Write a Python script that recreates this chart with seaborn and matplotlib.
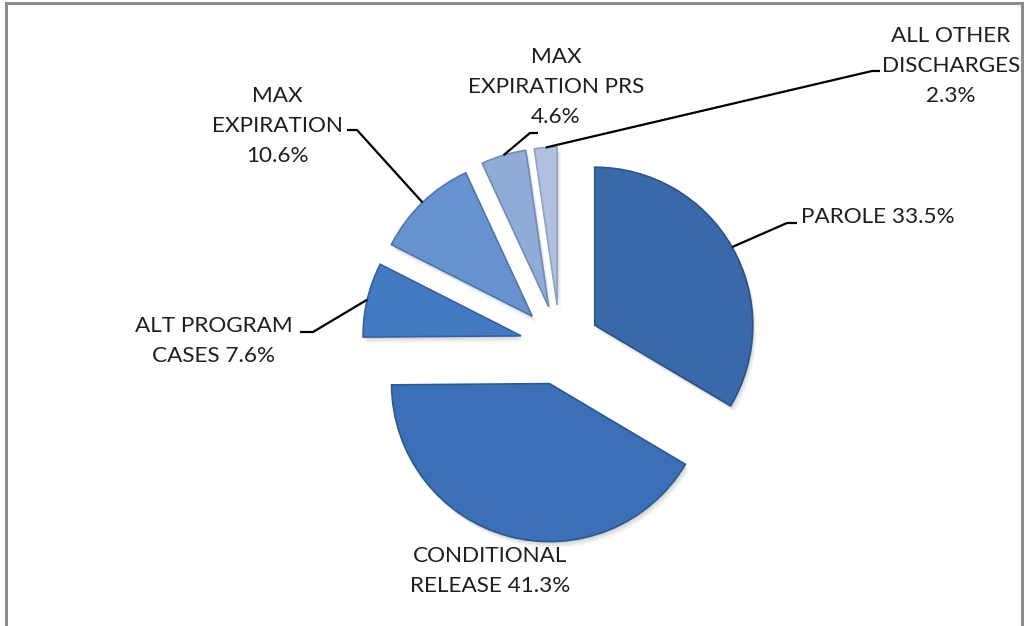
import numpy as np
import matplotlib
matplotlib.use("Agg")
import matplotlib.pyplot as plt
import matplotlib.patches as mpatches
import seaborn as sns

# discharge categories and their share (%)
categories = ["PAROLE", "CONDITIONAL\nRELEASE", "ALT PROGRAM\nCASES",
              "MAX\nEXPIRATION", "MAX\nEXPIRATION PRS", "ALL OTHER\nDISCHARGES"]
shares = [33.5, 41.3, 7.6, 10.6, 4.6, 2.3]

# styling / layout
colors = ["#3A69A9", "#3B70B6", "#4479C3", "#6792CF", "#90ABD6", "#AFC1DF"]
edge_colors = ["#2C5286", "#2D5890", "#35619E", "#4E76AE", "#6F8CB8", "#8EA2C2"]
W, H = 1026, 626
center_px = (560, 345)
radius = 158
explode_px = 40
seps = [" ", " ", " ", "\n", "\n", "\n"]
# label anchor (px), alignment, and leader elbow / end (px)
label_pos = [(801, 217, "left"), (490, 571, "center"), (214, 341, "center"),
             (277, 126, "center"), (556, 87, "center"), (951, 66, "center")]
leaders = [((787, 223), (797, 223)), None, ((313, 332), (300, 332)),
           ((357, 130), (347, 130)), ((530, 133), (538, 133)),
           ((872, 71), (880, 71))]

sns.set_style("white")
plt.rcParams["font.family"] = ["Lato", "DejaVu Sans"]

fig = plt.figure(figsize=(W / 100, H / 100), dpi=100)
ax = fig.add_axes([0, 0, 1, 1])
cx, cy = center_px[0], H - center_px[1]

# soft shadow: a few translucent grey copies shifted down/right
for k, a in [(6, 0.06), (4, 0.08), (2, 0.10)]:
    ax.pie(shares, radius=radius, center=(cx + k * 0.6, cy - k),
           explode=[explode_px] * len(shares), startangle=90, counterclock=False,
           colors=["#404040"] * len(shares),
           wedgeprops=dict(alpha=a, linewidth=0))

wedges, _ = ax.pie(shares, radius=radius, center=(cx, cy),
                   explode=[explode_px] * len(shares), startangle=90,
                   counterclock=False, colors=colors,
                   wedgeprops=dict(linewidth=1.2))
for w, ec in zip(wedges, edge_colors):
    w.set_edgecolor(ec)

for i, w in enumerate(wedges):
    mid = np.deg2rad((w.theta1 + w.theta2) / 2)
    arc_pt = (w.center[0] + w.r * np.cos(mid), w.center[1] + w.r * np.sin(mid))
    lx, ly, ha = label_pos[i]
    ax.text(lx, H - ly, f"{categories[i]}{seps[i]}{shares[i]}%", ha=ha, va="center",
            multialignment="center", fontsize=16.2, color="#1E1E1E", linespacing=1.65)
    if leaders[i] is not None:
        (ex, ey), (tx, ty) = leaders[i]
        ax.plot([arc_pt[0], ex, tx], [arc_pt[1], H - ey, H - ty],
                color="black", lw=1.6, solid_capstyle="butt")

ax.set_xlim(0, W)
ax.set_ylim(0, H)
ax.set_axis_off()

fig.patches.append(mpatches.Rectangle((6 / W, -0.02), 1016 / W, 1 - 3 / H + 0.02,
                                      transform=fig.transFigure, fill=False,
                                      edgecolor="#8C8C8C", linewidth=2.2))

fig.savefig("out.png", dpi=100, facecolor="white")
